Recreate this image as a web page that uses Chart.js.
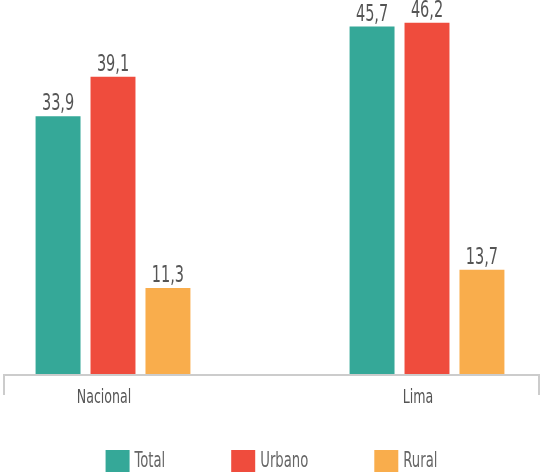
<!DOCTYPE html>
<html>
<head>
<meta charset="utf-8">
<script src="https://cdn.jsdelivr.net/npm/chart.js@4"></script>
<style>
  html, body { margin: 0; padding: 0; background: #fff; }
  #wrap { width: 543px; height: 475px; position: relative; }
</style>
</head>
<body>
<div id="wrap"><canvas id="myChart"></canvas></div>
<script>
const categories = ['Nacional', 'Lima'];
const seriesNames = ['Total', 'Urbano', 'Rural'];
const totalValues = [33.9, 45.7];
const urbanoValues = [39.1, 46.2];
const ruralValues = [11.3, 13.7];
const colors = ['#35a898', '#ef4c3d', '#f9ad4c'];

const FONT = '"DejaVu Sans Condensed", "DejaVu Sans", sans-serif';
const SQUEEZE = 0.7; // la fuente original es muy estrecha

// texto estrecho: se escala en horizontal
function narrowText(c, txt, x, y, align) {
  c.save();
  c.translate(x, y);
  c.scale(SQUEEZE, 1);
  c.textAlign = align;
  c.fillText(txt, 0, 0);
  c.restore();
}

// etiquetas de valor encima de cada barra
const valueLabels = {
  id: 'valueLabels',
  afterDatasetsDraw(chart) {
    const c = chart.ctx;
    c.save();
    c.font = '23px ' + FONT;
    c.fillStyle = '#555';
    c.textBaseline = 'alphabetic';
    chart.data.datasets.forEach((ds, i) => {
      chart.getDatasetMeta(i).data.forEach((bar, j) => {
        narrowText(c, ds.data[j].toFixed(1).replace('.', ','), bar.x, bar.y - 6, 'center');
      });
    });
    c.restore();
  }
};

// eje inferior en forma de corchete + etiquetas de categoria
const bracketAxis = {
  id: 'bracketAxis',
  afterDatasetsDraw(chart) {
    const c = chart.ctx;
    const x = chart.scales.x;
    const y = chart.scales.y.getPixelForValue(0);
    c.save();
    c.strokeStyle = '#cccccc';
    c.lineWidth = 2;
    c.beginPath();
    c.moveTo(4, y + 21);
    c.lineTo(4, y + 1);
    c.lineTo(539, y + 1);
    c.lineTo(539, y + 21);
    c.stroke();
    c.font = '20px ' + FONT;
    c.fillStyle = '#555';
    c.textBaseline = 'alphabetic';
    categories.forEach((lab, i) => {
      narrowText(c, lab, x.getPixelForValue(i) - 9, y + 29, 'center');
    });
    c.restore();
  }
};

// leyenda propia, centrada abajo
const bottomLegend = {
  id: 'bottomLegend',
  afterDraw(chart) {
    const c = chart.ctx;
    const box = 24, boxH = 22, gap = 5, itemGap = 66, top = 450;
    c.save();
    c.font = '21px ' + FONT;
    c.textBaseline = 'middle';
    const items = chart.data.datasets.map(ds => ({
      label: ds.label, color: ds.backgroundColor,
      w: box + gap + c.measureText(ds.label).width * SQUEEZE
    }));
    const total = items.reduce((s, it) => s + it.w, 0) + itemGap * (items.length - 1);
    let x = (chart.width - total) / 2;
    items.forEach(it => {
      c.fillStyle = it.color;
      c.fillRect(x, top, box, boxH);
      c.fillStyle = '#666';
      narrowText(c, it.label, x + box + gap, top + boxH / 2 + 1, 'left');
      x += it.w + itemGap;
    });
    c.restore();
  }
};

// ejes invisibles para reservar el margen lateral
const hiddenAxis = (pos, w) => ({
  position: pos,
  min: 0,
  max: 49.2,
  grid: { display: false },
  border: { display: false },
  ticks: { display: false },
  afterFit(scale) { scale.width = w; }
});

new Chart(document.getElementById('myChart'), {
  type: 'bar',
  data: {
    labels: categories,
    datasets: [
      { label: seriesNames[0], data: totalValues, backgroundColor: colors[0] },
      { label: seriesNames[1], data: urbanoValues, backgroundColor: colors[1] },
      { label: seriesNames[2], data: ruralValues, backgroundColor: colors[2] }
    ]
  },
  options: {
    responsive: true,
    maintainAspectRatio: false,
    animation: false,
    clip: false,
    categoryPercentage: 0.525,
    barPercentage: 0.818,
    layout: { padding: { top: 0, bottom: 101, left: 0, right: 0 } },
    scales: {
      x: {
        offset: false,
        grid: { display: false },
        border: { display: false },
        ticks: { display: false },
        afterFit(scale) { scale.height = 0; }
      },
      y: hiddenAxis('left', 113),
      y2: hiddenAxis('right', 116)
    },
    plugins: {
      tooltip: { enabled: false },
      legend: { display: false }
    }
  },
  plugins: [valueLabels, bracketAxis, bottomLegend]
});
</script>
</body>
</html>
